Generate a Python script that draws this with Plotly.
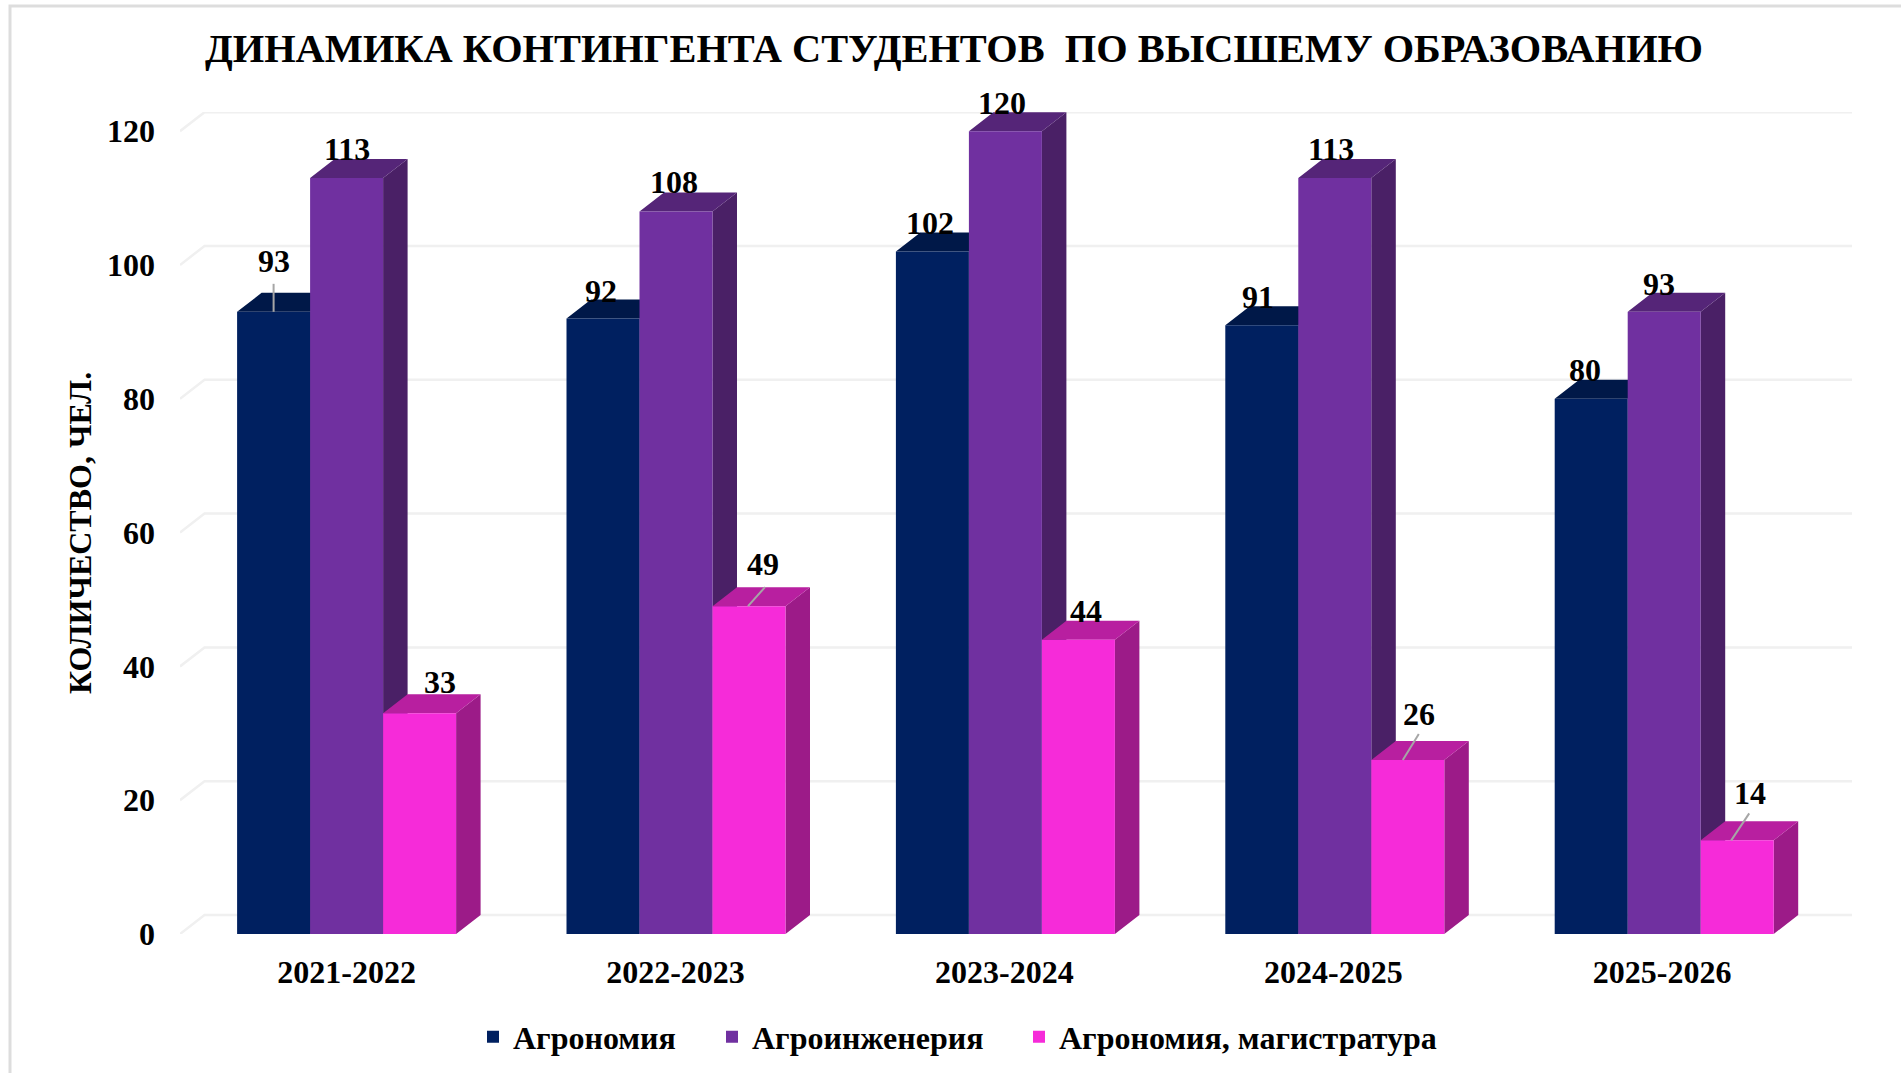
import plotly.graph_objects as go

# ---- data ----
years = ["2021-2022", "2022-2023", "2023-2024", "2024-2025", "2025-2026"]
agronomy = [93, 92, 102, 91, 80]
agroeng = [113, 108, 120, 113, 93]
masters = [33, 49, 44, 26, 14]
series_names = ["Агрономия", "Агроинженерия", "Агрономия, магистратура"]
y_ticks = [0, 20, 40, 60, 80, 100, 120]

# ---- style / layout constants ----
W, H = 1901, 1073
ML, MR, MT, MB = 180, 49, 112, 139
PX_X = 329.4            # px per category
PX_Y = 6.69             # px per unit
DX = 24.5 / PX_X        # 3D depth in axis units
DY = 19 / PX_Y
X0 = (180 - 346.6) / PX_X
X1 = X0 + (W - ML - MR) / PX_X
Y1 = (H - MT - MB) / PX_Y
BW = 73 / PX_X
TICK_STEP = 328.9 / PX_X
FONT = "Liberation Serif"
front = ["#002060", "#7030A0", "#F62BD9"]
side = ["#001A4D", "#4A2066", "#9C1B88"]
top = ["#001848", "#552578", "#B81FA0"]
series = [agronomy, agroeng, masters]
# label offsets (px) relative to bar-top centre: (dx, up)
label_off = [
    [(0, 51), (-2, 28), (-2, 29), (-4, 28), (-6, 29)],
    [(0, 29), (-2, 29), (-3, 28), (-4, 29), (-5, 28)],
    [(20, 31), (14, 42), (8, 29), (11, 46), (13, 47)],
]
# leader lines: series, group, start dx, end dx, end up (px from bar-top centre)
leaders = [(0, 0, 0, 0, 28), (2, 1, -1, 16, 19), (2, 3, -5, 11, 26), (2, 4, -6, 12, 27)]

fig = go.Figure()

# back wall gridlines + floor diagonals
gx, gy = [], []
for t in y_ticks:
    gx += [X0, X0 + DX, X1, None]
    gy += [t, t + DY, t + DY, None]
fig.add_trace(go.Scatter(x=gx, y=gy, mode="lines", line=dict(color="#F0F0F0", width=2.5),
                         hoverinfo="skip", showlegend=False))

# side and top faces, computed from the data
for k, vals in enumerate(series):
    sx, sy, tx, ty = [], [], [], []
    for i, v in enumerate(vals):
        l = i + (k - 1.5) * BW
        r = l + BW
        sx += [r, r + DX, r + DX, r, r, None]
        sy += [0, DY, v + DY, v, 0, None]
        tx += [l, l + DX, r + DX, r, l, None]
        ty += [v, v + DY, v + DY, v, v, None]
    fig.add_trace(go.Scatter(x=sx, y=sy, mode="lines", fill="toself", fillcolor=side[k],
                             line=dict(width=0, color=side[k]), hoverinfo="skip", showlegend=False))
    fig.add_trace(go.Scatter(x=tx, y=ty, mode="lines", fill="toself", fillcolor=top[k],
                             line=dict(width=0, color=top[k]), hoverinfo="skip", showlegend=False))

# front faces on an overlay axis so that they sit above the side faces
legend_ids = ["legend", "legend2", "legend3"]
for k, vals in enumerate(series):
    fig.add_trace(go.Bar(x=list(range(len(years))), y=vals, name=series_names[k],
                         marker=dict(color=front[k], line=dict(width=0)),
                         xaxis="x2", yaxis="y2", legend=legend_ids[k]))

# leader lines (on overlay as well)
lx, ly = [], []
for k, i, sx_, ex, ey in leaders:
    v = series[k][i]
    c = i + (k - 1) * BW
    lx += [c + sx_ / PX_X, c + ex / PX_X, None]
    ly += [v, v + ey / PX_Y, None]
fig.add_trace(go.Scatter(x=lx, y=ly, mode="lines", line=dict(color="#A6A6A6", width=2),
                         xaxis="x2", yaxis="y2", hoverinfo="skip", showlegend=False))

def lx_paper(px):
    return (px - ML) / (W - ML - MR)
def ly_paper(py):
    return (H - MB - py) / (H - MT - MB)

# data labels
annotations = []
for k, vals in enumerate(series):
    for i, v in enumerate(vals):
        ox, oy = label_off[k][i]
        annotations.append(dict(x=i + (k - 1) * BW, y=v, xref="x2", yref="y2", text=str(v),
                                showarrow=False, xshift=ox, yshift=oy, xanchor="center", yanchor="middle",
                                font=dict(family=FONT, size=32, color="#000000", weight="bold")))
annotations.append(dict(x=lx_paper(80), y=ly_paper(533), xref="paper", yref="paper",
                        text="КОЛИЧЕСТВО, ЧЕЛ.",
                        showarrow=False, textangle=-90, xanchor="center", yanchor="middle",
                        font=dict(family=FONT, size=32, color="#000000", weight="bold")))

def legend_at(px):
    return dict(x=lx_paper(px), y=ly_paper(1037), xanchor="left", yanchor="middle",
                orientation="h", bgcolor="rgba(0,0,0,0)", borderwidth=0,
                font=dict(family=FONT, size=32, color="#000000", weight="bold"), traceorder="normal")

fig.update_layout(
    width=W, height=H, autosize=False,
    margin=dict(l=ML, r=MR, t=MT, b=MB, pad=0, autoexpand=False),
    paper_bgcolor="#FFFFFF", plot_bgcolor="rgba(0,0,0,0)",
    barmode="group", bargap=1 - 3 * BW, bargroupgap=0,
    title=dict(text="ДИНАМИКА КОНТИНГЕНТА СТУДЕНТОВ\u00a0\u00a0ПО ВЫСШЕМУ ОБРАЗОВАНИЮ",
               x=954 / W, xanchor="center", y=1 - 48 / H, yanchor="middle", xref="container", yref="container",
               font=dict(family=FONT, size=40.4, color="#000000", weight="bold")),
    xaxis=dict(range=[X0, X1], tickmode="array", tickvals=[i * TICK_STEP for i in range(len(years))],
               ticktext=years, showgrid=False, zeroline=False, showline=False, ticks="",
               ticklabelstandoff=16,
               tickfont=dict(family=FONT, size=32, color="#000000", weight="bold")),
    yaxis=dict(range=[0, Y1], tickmode="array", tickvals=y_ticks, showgrid=False, zeroline=False,
               showline=False, ticks="", ticklabelstandoff=24,
               tickfont=dict(family=FONT, size=32, color="#000000", weight="bold")),
    xaxis2=dict(range=[X0, X1], overlaying="x", visible=False),
    yaxis2=dict(range=[0, Y1], overlaying="y", visible=False),
    legend=legend_at(473),
    legend2=legend_at(712),
    legend3=legend_at(1019),
    annotations=annotations,
    shapes=[dict(type="rect", xref="paper", yref="paper",
                 x0=lx_paper(10), x1=lx_paper(W + 10), y0=ly_paper(H + 10), y1=ly_paper(6),
                 line=dict(color="#DDDDDD", width=3), layer="below")],
)

fig.write_html("out.html", config=dict(displayModeBar=False),
               post_script="document.body.style.margin='0';document.body.style.overflow='hidden';")
